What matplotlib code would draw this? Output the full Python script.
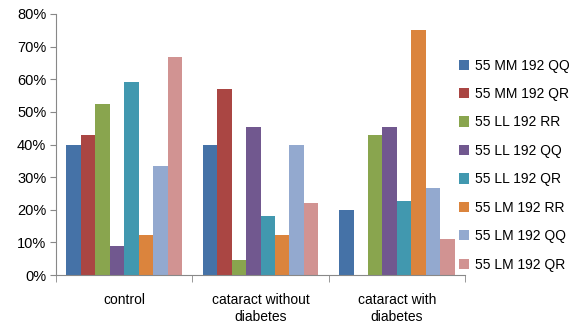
import matplotlib.pyplot as plt
import numpy as np
from matplotlib.ticker import PercentFormatter

plt.rcParams['font.family'] = ['Liberation Sans', 'DejaVu Sans']

categories = ["control", "cataract without\ndiabetes", "cataract with\ndiabetes"]
series = ["55 MM 192 QQ", "55 MM 192 QR", "55 LL 192 RR", "55 LL 192 QQ",
          "55 LL 192 QR", "55 LM 192 RR", "55 LM 192 QQ", "55 LM 192 QR"]
values = [
    [40.0, 40.0, 20.0],
    [42.9, 57.1, 0.0],
    [52.4, 4.5, 42.9],
    [9.0, 45.5, 45.5],
    [59.3, 18.2, 22.7],
    [12.3, 12.3, 75.0],
    [33.3, 40.0, 26.7],
    [66.7, 22.2, 11.1],
]
colors = ["#4572A7", "#AA4643", "#89A54E", "#71588F",
          "#4198AF", "#DB843D", "#93A9CF", "#D19392"]

fig = plt.figure(figsize=(5.81, 3.24), dpi=100)
ax = fig.add_axes([0.0964, 0.151, 0.704, 0.806])

x = np.arange(len(categories))
w = 0.106
for i, (name, vals) in enumerate(zip(series, values)):
    ax.bar(x + (i - 3.5) * w, vals, w, color=colors[i], label=name)

ax.set_xlim(-0.5, 2.5)
ax.set_ylim(0, 80)
ax.set_yticks(np.arange(0, 81, 10))
ax.yaxis.set_major_formatter(PercentFormatter(decimals=0))
ax.set_xticks(x)
ax.set_xticklabels(categories, fontsize=10, linespacing=1.3)
ax.set_xticks([-0.5, 0.5, 1.5, 2.5], minor=True)
ax.tick_params(axis='x', which='major', length=0, pad=13)
ax.tick_params(axis='x', which='minor', length=5, color='#888888')
ax.tick_params(axis='y', length=4, color='#888888', labelsize=10.5, pad=3)
for s in ['top', 'right']:
    ax.spines[s].set_visible(False)
for s in ['left', 'bottom']:
    ax.spines[s].set_color('#888888')

fig.legend(loc='upper left', bbox_to_anchor=(0.768, 0.858), frameon=False,
           fontsize=10, handlelength=0.75, handleheight=0.75,
           handletextpad=0.45, labelspacing=1.04)

plt.savefig("out.png", dpi=100)
plt.close()
